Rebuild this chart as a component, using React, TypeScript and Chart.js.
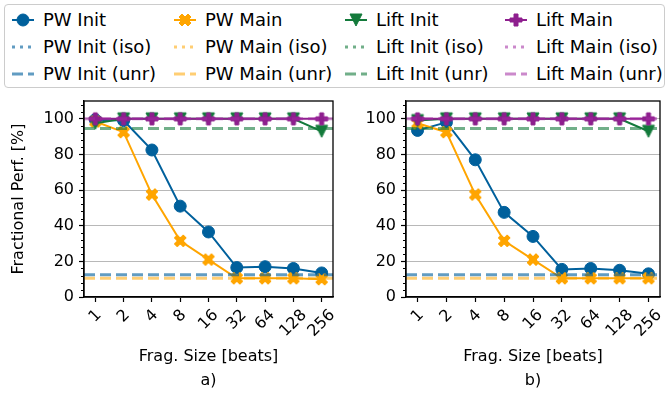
import React, { useEffect, useRef } from "react";
import { Chart, registerables } from "chart.js";

Chart.register(...registerables);

const FONT = '"DejaVu Sans", sans-serif';

// ---------- data ----------
const FRAG_LABELS = ["1", "2", "4", "8", "16", "32", "64", "128", "256"];
const Y_TICKS = [0, 20, 40, 60, 80, 100];
const Y_MINOR_STEP = 4;
const Y_MIN = 0;
const Y_MAX = 110;
const X_MARGIN = 0.4;

const SERIES_NAMES = ["PW Init", "PW Main", "Lift Init", "Lift Main"];

// panel a)
const A_PW_INIT = [99.5, 99, 82.5, 51, 36.5, 16.5, 17, 16, 13.5];
const A_PW_MAIN = [98.5, 92.5, 57.5, 31.5, 21, 10.5, 10.5, 10.5, 10];
const A_LIFT_INIT = [97.5, 100, 100, 100, 100, 100, 100, 100, 93];
const A_LIFT_MAIN = [100, 100, 100, 100, 100, 100, 100, 100, 100];
const A_UNR = [12.5, 10.5, 94.5, 100];

// panel b)
const B_PW_INIT = [93.5, 98, 77, 47.5, 34, 15.5, 16, 15, 13];
const B_PW_MAIN = [97.5, 92.5, 57.5, 31.5, 21, 10.5, 10.5, 10.5, 10.5];
const B_LIFT_INIT = [99, 100, 100, 100, 100, 100, 100, 100, 93];
const B_LIFT_MAIN = [100, 100, 100, 100, 100, 100, 100, 100, 100];
const B_UNR = [12.5, 10.5, 94.5, 100];

// ---------- styles ----------
const COLORS = ["#00609C", "#FFA500", "#137A3B", "#8E1F8E"];
const REF_COLORS = [
  "rgba(0,96,156,0.62)",
  "rgba(255,165,0,0.55)",
  "rgba(19,122,59,0.6)",
  "rgba(160,40,160,0.55)",
];
const MARKERS = ["circle", "x", "triangleDown", "plus"];
const MS = 12;

function polyFor(kind: string, ms: number): number[][] {
  const h = ms / 2;
  if (kind === "x")
    return [[-1, -2], [0, -1], [1, -2], [2, -1], [1, 0], [2, 1], [1, 2], [0, 1], [-1, 2], [-2, 1], [-1, 0], [-2, -1]].map(
      ([a, b]) => [(a * ms) / 4, (b * ms) / 4]
    );
  if (kind === "plus")
    return [[-1, -3], [1, -3], [1, -1], [3, -1], [3, 1], [1, 1], [1, 3], [-1, 3], [-1, 1], [-3, 1], [-3, -1], [-1, -1]].map(
      ([a, b]) => [(a * ms) / 6, (b * ms) / 6]
    );
  if (kind === "triangleDown")
    return [
      [0, h],
      [-h, -h],
      [h, -h],
    ];
  return [];
}

function markerCanvas(kind: string, color: string): HTMLCanvasElement {
  const size = MS + 4;
  const c = document.createElement("canvas");
  c.width = size;
  c.height = size;
  const ctx = c.getContext("2d")!;
  ctx.translate(size / 2, size / 2);
  const p = polyFor(kind, MS);
  ctx.beginPath();
  p.forEach(([x, y], i) => (i ? ctx.lineTo(x, y) : ctx.moveTo(x, y)));
  ctx.closePath();
  ctx.fillStyle = color;
  ctx.fill();
  ctx.strokeStyle = color;
  ctx.lineWidth = 1;
  ctx.lineJoin = "miter";
  ctx.stroke();
  return c;
}

const axesDecor = {
  id: "axesDecor",
  afterDraw(chart: any) {
    const { ctx, chartArea: a, scales } = chart;
    const y = scales.y;
    const x = scales.x;
    ctx.save();
    ctx.strokeStyle = "#000";
    ctx.lineWidth = 1;
    for (let v = Y_MIN; v <= Y_MAX; v += Y_MINOR_STEP) {
      if (Y_TICKS.includes(v)) continue;
      const py = Math.round(y.getPixelForValue(v)) + 0.5;
      ctx.beginPath();
      ctx.moveTo(a.left - 3, py);
      ctx.lineTo(a.left, py);
      ctx.stroke();
    }
    ctx.lineWidth = 1.3;
    ctx.strokeRect(a.left, a.top, a.right - a.left, a.bottom - a.top);
    ctx.font = `16px ${FONT}`;
    ctx.fillStyle = "#000";
    ctx.textAlign = "center";
    ctx.textBaseline = "middle";
    FRAG_LABELS.forEach((lab, i) => {
      const px = x.getPixelForValue(i);
      const w = ctx.measureText(lab).width;
      const h = 16 * 1.16;
      const side = (w + h) * Math.SQRT1_2;
      const cy = a.bottom + 5 + 4 + side / 2;
      ctx.save();
      ctx.translate(px, cy);
      ctx.rotate(-Math.PI / 4);
      ctx.fillText(lab, 0, 0);
      ctx.restore();
    });
    ctx.restore();
  },
};

type PanelProps = {
  left: number;
  width: number;
  yWidth: number;
  series: number[][];
  unr: number[];
  tag: string;
  showYTitle: boolean;
};

function Panel({ left, width, yWidth, series, unr, tag, showYTitle }: PanelProps) {
  const ref = useRef<HTMLCanvasElement>(null);
  useEffect(() => {
    const xmin = -X_MARGIN;
    const xmax = FRAG_LABELS.length - 1 + X_MARGIN;
    const datasets: any[] = [];
    series.forEach((vals, k) => {
      const kind = MARKERS[k];
      datasets.push({
        label: SERIES_NAMES[k],
        data: vals.map((v, i) => ({ x: i, y: v })),
        borderColor: COLORS[k],
        backgroundColor: COLORS[k],
        borderWidth: 2,
        pointStyle: kind === "circle" ? "circle" : markerCanvas(kind, COLORS[k]),
        pointRadius: 6,
        pointBorderWidth: 1,
        pointBackgroundColor: COLORS[k],
        pointBorderColor: COLORS[k],
        order: 10 - k,
        tension: 0,
      });
    });
    unr.forEach((v, k) => {
      datasets.push({
        label: SERIES_NAMES[k] + " (unr)",
        data: [
          { x: xmin, y: v },
          { x: xmax, y: v },
        ],
        borderColor: REF_COLORS[k],
        borderWidth: 3,
        borderDash: [11, 5],
        pointRadius: 0,
        order: 0,
      });
    });

    const chart = new Chart(ref.current!, {
      type: "line",
      data: { datasets },
      plugins: [axesDecor],
      options: {
        animation: false,
        responsive: false,
        devicePixelRatio: 1,
        layout: { padding: { top: 13, right: 5, left: 0, bottom: 0 } },
        plugins: { legend: { display: false }, tooltip: { enabled: false }, title: { display: false } },
        scales: {
          x: {
            type: "linear",
            min: xmin,
            max: xmax,
            afterBuildTicks: (s: any) => {
              s.ticks = FRAG_LABELS.map((_, i) => ({ value: i }));
            },
            afterFit: (s: any) => {
              s.height = 101;
              s.paddingLeft = 0;
              s.paddingRight = 0;
            },
            ticks: { display: false },
            grid: { drawOnChartArea: false, drawTicks: true, tickLength: 5, tickColor: "#000", tickWidth: 1.2, color: "#000" },
            border: { display: true, color: "#000", width: 1.3 },
            title: {
              display: true,
              text: ["Frag. Size [beats]", tag],
              color: "#000",
              font: { family: FONT, size: 16, lineHeight: 1.5 },
              padding: { top: 0, bottom: 5 },
            },
          },
          y: {
            type: "linear",
            min: Y_MIN,
            max: Y_MAX,
            afterBuildTicks: (s: any) => {
              s.ticks = Y_TICKS.map((v) => ({ value: v }));
            },
            afterFit: (s: any) => {
              s.width = yWidth;
              s.paddingTop = 0;
              s.paddingBottom = 0;
            },
            ticks: { color: "#000", font: { family: FONT, size: 16 }, padding: 5 },
            grid: { color: "#b8b8b8", lineWidth: 1, tickColor: "#000", tickLength: 5, tickWidth: 1.2 },
            border: { display: true, color: "#000", width: 1.3 },
            title: {
              display: showYTitle,
              text: "Fractional Perf. [%]",
              color: "#000",
              font: { family: FONT, size: 16 },
              padding: { top: 9, bottom: 0 },
            },
          },
        },
      },
    } as any);
    return () => chart.destroy();
  }, []);
  return (
    <canvas
      ref={ref}
      width={width}
      height={310}
      style={{ position: "absolute", left, top: 88, width, height: 310 }}
    />
  );
}

const LEGEND_COL_X = [43, 205, 376, 536];
const LEGEND_ROW_Y = [20, 47, 74];

function Handle({ k, row }: { k: number; row: number }) {
  const c = row === 0 ? COLORS[k] : REF_COLORS[k];
  const cx = 11;
  const cy = 8;
  let marker: any = null;
  if (row === 0) {
    if (MARKERS[k] === "circle") marker = <circle cx={cx} cy={cy} r={6} fill={c} stroke={c} strokeWidth={1} />;
    else {
      const pts = polyFor(MARKERS[k], MS)
        .map(([x, y]) => `${x + cx},${y + cy}`)
        .join(" ");
      marker = <polygon points={pts} fill={c} stroke={c} strokeWidth={1} />;
    }
  }
  const dash = row === 1 ? "3 5" : row === 2 ? "11 5" : undefined;
  return (
    <svg width={24} height={16} style={{ position: "absolute", left: LEGEND_COL_X[k] - 31, top: LEGEND_ROW_Y[row] - 8 }}>
      <line x1={0} y1={cy} x2={22} y2={cy} stroke={c} strokeWidth={row === 0 ? 2 : 3} strokeDasharray={dash} />
      {marker}
    </svg>
  );
}

function Legend() {
  const suffix = ["", " (iso)", " (unr)"];
  const items: any[] = [];
  [0, 1, 2].forEach((row) =>
    SERIES_NAMES.forEach((name, k) => {
      items.push(<Handle key={`h${row}${k}`} k={k} row={row} />);
      items.push(
        <div
          key={`t${row}${k}`}
          style={{
            position: "absolute",
            left: LEGEND_COL_X[k],
            top: LEGEND_ROW_Y[row] - 11,
            height: 22,
            lineHeight: "22px",
            fontSize: 18,
            whiteSpace: "nowrap",
            color: "#000",
          }}
        >
          {name + suffix[row]}
        </div>
      );
    })
  );
  return (
    <>
      <div
        style={{
          position: "absolute",
          left: 4,
          top: 4,
          width: 659,
          height: 82,
          border: "1px solid #cccccc",
          borderRadius: 4,
        }}
      />
      {items}
    </>
  );
}

export default function App() {
  return (
    <div
      style={{
        position: "fixed",
        left: 0,
        top: 0,
        width: 667,
        height: 398,
        background: "#fff",
        fontFamily: FONT,
        overflow: "hidden",
      }}
    >
      <Panel left={0} width={340} yWidth={84} series={[A_PW_INIT, A_PW_MAIN, A_LIFT_INIT, A_LIFT_MAIN]} unr={A_UNR} tag="a)" showYTitle={true} />
      <Panel left={340} width={327} yWidth={66} series={[B_PW_INIT, B_PW_MAIN, B_LIFT_INIT, B_LIFT_MAIN]} unr={B_UNR} tag="b)" showYTitle={false} />
      <Legend />
    </div>
  );
}
